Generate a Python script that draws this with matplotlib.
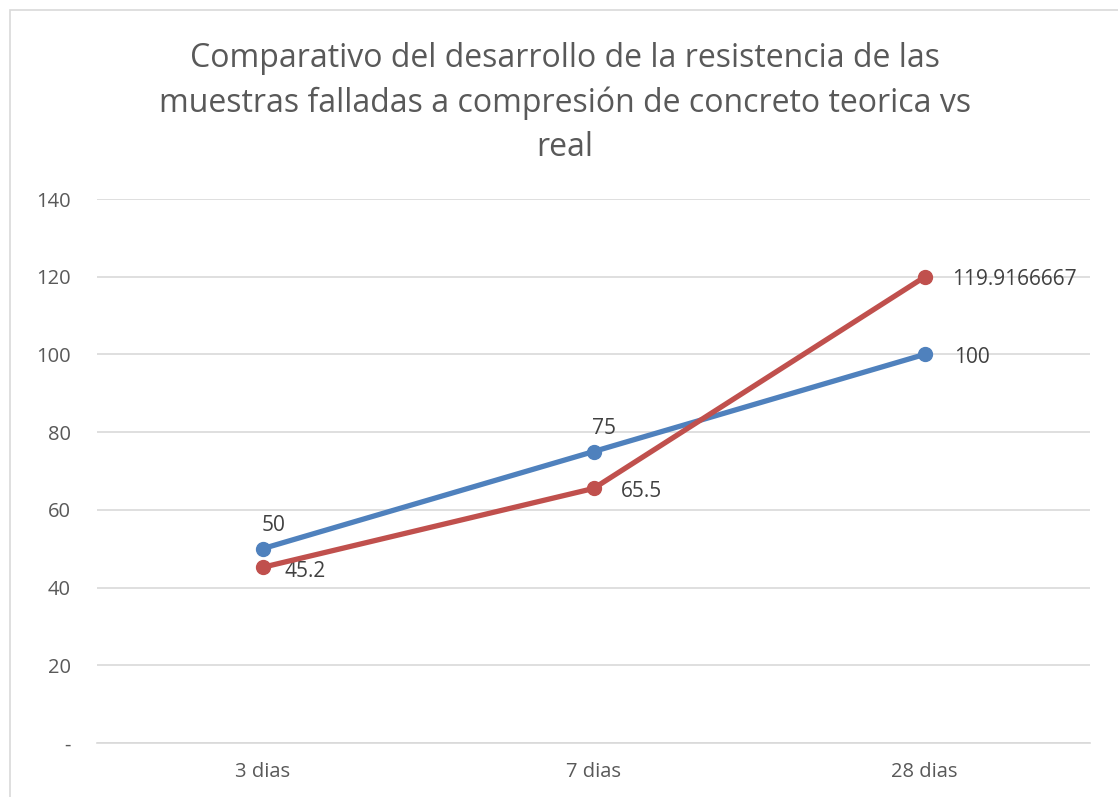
import matplotlib.pyplot as plt
from matplotlib.patches import Rectangle

categories = ["3 dias", "7 dias", "28 dias"]
teorica = [50, 75, 100]
real = [45.2, 65.5, 119.9166667]
teorica_labels = ["50", "75", "100"]
real_labels = ["45.2", "65.5", "119.9166667"]
yticks = [0, 20, 40, 60, 80, 100, 120, 140]
ytick_labels = ["-", "20", "40", "60", "80", "100", "120", "140"]

plt.rcParams['font.family'] = ['Open Sans', 'DejaVu Sans']
grey = "#595959"

fig = plt.figure(figsize=(11.18, 7.97), dpi=100)
ax = fig.add_axes([0.0868, 0.0678, 0.8882, 0.6825])

x = range(len(categories))
ax.plot(x, teorica, color="#4F81BD", lw=3.8, marker="o", ms=10, zorder=3)
ax.plot(x, real, color="#C0504D", lw=3.8, marker="o", ms=10, zorder=4)

fs = 15
for i, (v, t) in enumerate(zip(teorica, teorica_labels)):
    if i < 2:
        ax.annotate(t, (i, v), xytext=(-1, 9), textcoords="offset points",
                    ha="left", va="bottom", fontsize=fs, color="#404040")
    else:
        ax.annotate(t, (i, v), xytext=(21, -2), textcoords="offset points",
                    ha="left", va="center", fontsize=fs, color="#404040")
for i, (v, t) in enumerate(zip(real, real_labels)):
    if i == 0:
        ax.annotate(t, (i, v), xytext=(16, -3), textcoords="offset points",
                    ha="left", va="center", fontsize=fs, color="#404040")
    else:
        ax.annotate(t, (i, v), xytext=(20, -2), textcoords="offset points",
                    ha="left", va="center", fontsize=fs, color="#404040")

ax.set_xlim(-0.5, 2.5)
ax.set_ylim(0, 140)
ax.set_xticks(list(x))
ax.set_xticklabels(categories)
ax.set_yticks(yticks)
ax.set_yticklabels(ytick_labels)
ax.tick_params(length=0, colors=grey, labelsize=14.5)
ax.tick_params(axis="x", pad=14)
ax.tick_params(axis="y", pad=19)
ax.grid(axis="y", color="#D9D9D9", lw=1.2)
ax.set_axisbelow(True)
for s in ["top", "right", "left"]:
    ax.spines[s].set_visible(False)
ax.spines["bottom"].set_color("#D9D9D9")
ax.spines["bottom"].set_linewidth(1.2)

fig.text(0.505, 0.947, "Comparativo del desarrollo de la resistencia de las\n"
         "muestras falladas a compresión de concreto teorica vs\nreal",
         ha="center", va="top", fontsize=23, color=grey, linespacing=1.45)

fig.patches.append(Rectangle((10 / 1118, -0.1), 1.2, 1 - 10 / 797 + 0.1,
                             transform=fig.transFigure, fill=False,
                             edgecolor="#D9D9D9", lw=1.2))

fig.savefig("out.png", dpi=100)
